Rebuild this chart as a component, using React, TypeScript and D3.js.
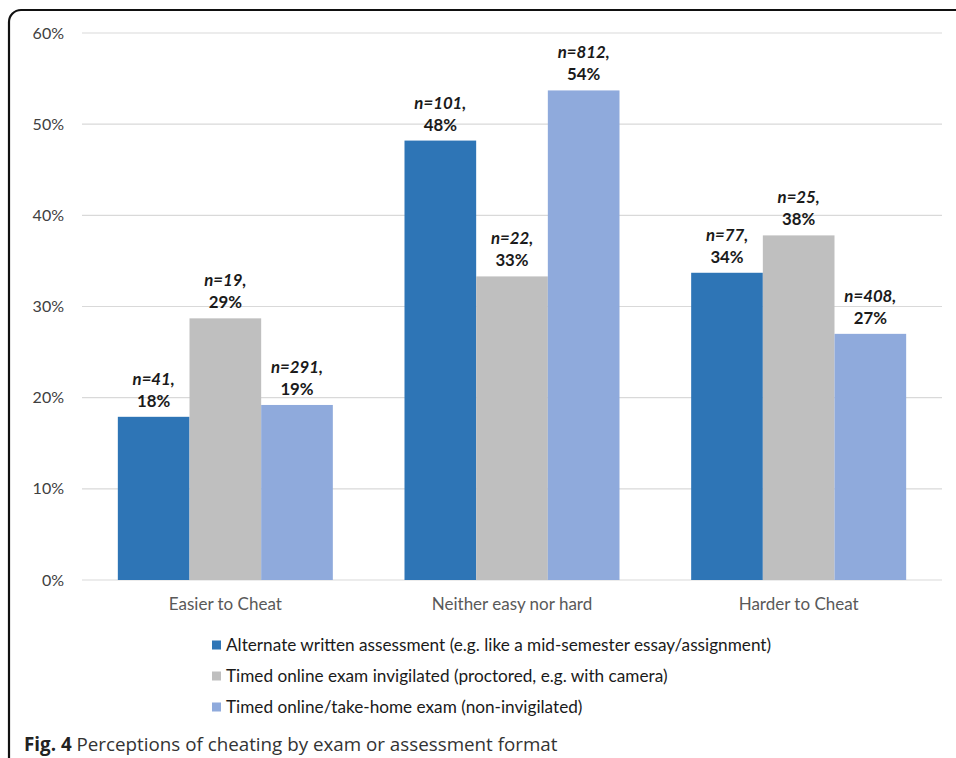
import React from "react"
import { scaleBand, scaleLinear } from "d3"

const categories = ["Easier to Cheat", "Neither easy nor hard", "Harder to Cheat"]
const seriesNames = [
  "Alternate written assessment (e.g. like a mid-semester essay/assignment)",
  "Timed online exam invigilated (proctored, e.g. with camera)",
  "Timed online/take-home exam (non-invigilated)",
]
const colors = ["#2e75b6", "#bfbfbf", "#8faadc"]
// percent values per series, in category order
const written = [17.9, 48.2, 33.7]
const invigilated = [28.7, 33.3, 37.8]
const nonInvigilated = [19.2, 53.7, 27.0]
// counts shown in labels
const writtenN = [41, 101, 77]
const invigilatedN = [19, 22, 25]
const nonInvigilatedN = [291, 812, 408]
const yTicks = [0, 10, 20, 30, 40, 50, 60]

const values = [written, invigilated, nonInvigilated]
const counts = [writtenN, invigilatedN, nonInvigilatedN]

const W = 956
const H = 758
const font = "Lato, 'Open Sans', sans-serif"

export default function App() {
  const left = 82
  const right = 942
  const top = 33
  const bottom = 580

  const x = scaleBand<string>().domain(categories).range([left, right]).padding(0)
  const y = scaleLinear().domain([0, 60]).range([bottom, top])

  // bars take half the band, gap of one bar width between groups
  const barW = x.bandwidth() / 4
  const off = (s: number) => x.bandwidth() / 2 - 1.5 * barW + s * barW

  return (
    <div style={{ position: "fixed", left: 0, top: 0 }}>
      <svg width={W} height={H} style={{ display: "block", background: "#fff" }}>
        <path d="M 9 758 L 9 22 A 12 12 0 0 1 21 10 L 956 10" fill="none" stroke="#111" strokeWidth={2.2} />

        {yTicks.map(t => (
          <g key={t}>
            <line x1={left} x2={right} y1={y(t)} y2={y(t)} stroke="#d9d9d9" strokeWidth={1.2} />
            <text x={64} y={y(t)} dy="0.35em" textAnchor="end" fontFamily={font} fontSize={16} fill="#404040">
              {t}%
            </text>
          </g>
        ))}

        {values.map((series, s) =>
          series.map((v, i) => {
            const bx = (x(categories[i]) ?? 0) + off(s)
            const cx = bx + barW / 2
            return (
              <g key={`${s}-${i}`}>
                <rect x={bx} y={y(v)} width={barW} height={bottom - y(v)} fill={colors[s]} />
                <text x={cx} y={y(v) - 32} textAnchor="middle" fontFamily={font} fontSize={16.8} fontWeight="bold" fontStyle="italic" fill="#1a1a1a">
                  n={counts[s][i]},
                </text>
                <text x={cx} y={y(v) - 10} textAnchor="middle" fontFamily={font} fontSize={16.8} fontWeight="bold" fill="#1a1a1a">
                  {Math.round(v)}%
                </text>
              </g>
            )
          })
        )}

        {categories.map(c => (
          <text key={c} x={(x(c) ?? 0) + x.bandwidth() / 2} y={610} textAnchor="middle" fontFamily={font} fontSize={17} fill="#595959">
            {c}
          </text>
        ))}

        {seriesNames.map((name, s) => (
          <g key={name} transform={`translate(212, ${645 + s * 31})`}>
            <rect x={0} y={-4.5} width={9} height={9} fill={colors[s]} />
            <text x={14} y={0} dy="0.35em" fontFamily={font} fontSize={17.2} fill="#1a1a1a">
              {name}
            </text>
          </g>
        ))}

        <text x={24} y={751} fontFamily="'Open Sans', sans-serif" fontSize={18.8} fill="#333">
          <tspan fontWeight="bold" fill="#222">Fig. 4</tspan>
          <tspan> Perceptions of cheating by exam or assessment format</tspan>
        </text>
      </svg>
    </div>
  )
}
